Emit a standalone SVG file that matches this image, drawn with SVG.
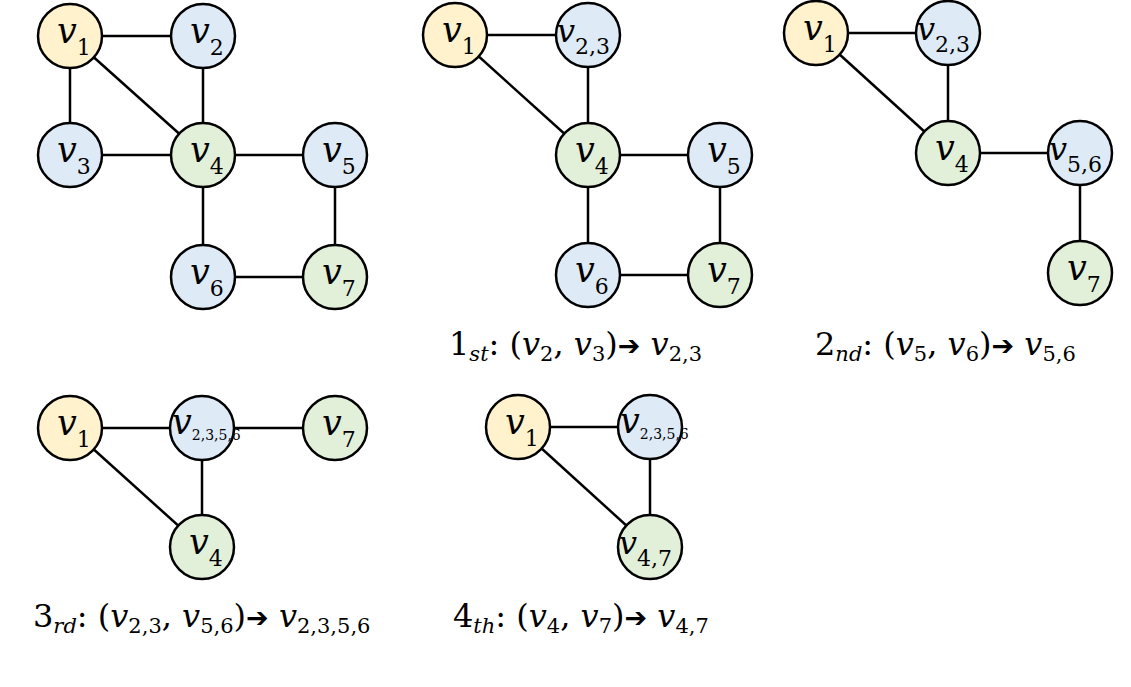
<svg xmlns="http://www.w3.org/2000/svg" width="1131" height="687" viewBox="0 0 1131 687">
<style>
.n{stroke:#000;stroke-width:2.5}
.y{fill:#FFF2CC}.b{fill:#DEEBF7}.g{fill:#E2F0D9}
.e{stroke:#000;stroke-width:2.5;fill:none}
.t{font-family:"DejaVu Serif","Liberation Serif",serif;font-size:35px;fill:#000}
.m{font-size:32px}
.v{font-style:italic}
.s{font-size:22px}
.s3{font-size:14px}
.c{font-family:"DejaVu Serif","Liberation Serif",serif;font-size:32px;fill:#000}
.cs{font-size:21px;font-style:italic}
.cn{font-size:21px}
.ar{font-family:"DejaVu Sans",sans-serif;font-size:27px;font-weight:bold}
</style>
<rect width="1131" height="687" fill="#fff"/>
<g id="connectors">
<line class="e" x1="70" y1="36" x2="203" y2="36"/>
<line class="e" x1="70" y1="36" x2="70" y2="155"/>
<line class="e" x1="70" y1="36" x2="203" y2="155"/>
<line class="e" x1="203" y1="36" x2="203" y2="155"/>
<line class="e" x1="70" y1="155" x2="203" y2="155"/>
<line class="e" x1="203" y1="155" x2="335" y2="155"/>
<line class="e" x1="203" y1="155" x2="203" y2="277"/>
<line class="e" x1="335" y1="155" x2="335" y2="277"/>
<line class="e" x1="203" y1="277" x2="335" y2="277"/>
<line class="e" x1="455" y1="35" x2="588" y2="35"/>
<line class="e" x1="455" y1="35" x2="588" y2="155"/>
<line class="e" x1="588" y1="35" x2="588" y2="155"/>
<line class="e" x1="588" y1="155" x2="720" y2="155"/>
<line class="e" x1="588" y1="155" x2="588" y2="275"/>
<line class="e" x1="720" y1="155" x2="720" y2="275"/>
<line class="e" x1="588" y1="275" x2="720" y2="275"/>
<line class="e" x1="816" y1="33" x2="948" y2="33"/>
<line class="e" x1="816" y1="33" x2="948" y2="153"/>
<line class="e" x1="948" y1="33" x2="948" y2="153"/>
<line class="e" x1="948" y1="153" x2="1080" y2="153"/>
<line class="e" x1="1080" y1="153" x2="1080" y2="273"/>
<line class="e" x1="70" y1="428" x2="202" y2="428"/>
<line class="e" x1="202" y1="428" x2="335" y2="428"/>
<line class="e" x1="70" y1="428" x2="202" y2="547"/>
<line class="e" x1="202" y1="428" x2="202" y2="547"/>
<line class="e" x1="518" y1="427" x2="650" y2="427"/>
<line class="e" x1="518" y1="427" x2="650" y2="547"/>
<line class="e" x1="650" y1="427" x2="650" y2="547"/>
</g>
<g id="g1v1"><circle class="n y" cx="70" cy="36" r="32"/><text class="t" x="57" y="43"><tspan class="v">v</tspan><tspan class="s" dy="12">1</tspan></text></g>
<g id="g1v2"><circle class="n b" cx="203" cy="36" r="32"/><text class="t" x="190" y="43"><tspan class="v">v</tspan><tspan class="s" dy="12">2</tspan></text></g>
<g id="g1v3"><circle class="n b" cx="70" cy="155" r="32"/><text class="t" x="57" y="162"><tspan class="v">v</tspan><tspan class="s" dy="12">3</tspan></text></g>
<g id="g1v4"><circle class="n g" cx="203" cy="155" r="32"/><text class="t" x="190" y="162"><tspan class="v">v</tspan><tspan class="s" dy="12">4</tspan></text></g>
<g id="g1v5"><circle class="n b" cx="335" cy="155" r="32"/><text class="t" x="322" y="162"><tspan class="v">v</tspan><tspan class="s" dy="12">5</tspan></text></g>
<g id="g1v6"><circle class="n b" cx="203" cy="277" r="32"/><text class="t" x="190" y="284"><tspan class="v">v</tspan><tspan class="s" dy="12">6</tspan></text></g>
<g id="g1v7"><circle class="n g" cx="335" cy="277" r="32"/><text class="t" x="322" y="284"><tspan class="v">v</tspan><tspan class="s" dy="12">7</tspan></text></g>
<g id="g2v1"><circle class="n y" cx="455" cy="35" r="32"/><text class="t" x="442" y="42"><tspan class="v">v</tspan><tspan class="s" dy="12">1</tspan></text></g>
<g id="g2v23"><circle class="n b" cx="588" cy="35" r="32"/><text class="t m" x="557" y="42"><tspan class="v">v</tspan><tspan class="s" dy="12">2,3</tspan></text></g>
<g id="g2v4"><circle class="n g" cx="588" cy="155" r="32"/><text class="t" x="575" y="162"><tspan class="v">v</tspan><tspan class="s" dy="12">4</tspan></text></g>
<g id="g2v5"><circle class="n b" cx="720" cy="155" r="32"/><text class="t" x="707" y="162"><tspan class="v">v</tspan><tspan class="s" dy="12">5</tspan></text></g>
<g id="g2v6"><circle class="n b" cx="588" cy="275" r="32"/><text class="t" x="575" y="282"><tspan class="v">v</tspan><tspan class="s" dy="12">6</tspan></text></g>
<g id="g2v7"><circle class="n g" cx="720" cy="275" r="32"/><text class="t" x="707" y="282"><tspan class="v">v</tspan><tspan class="s" dy="12">7</tspan></text></g>
<g id="g3v1"><circle class="n y" cx="816" cy="33" r="32"/><text class="t" x="803" y="40"><tspan class="v">v</tspan><tspan class="s" dy="12">1</tspan></text></g>
<g id="g3v23"><circle class="n b" cx="948" cy="33" r="32"/><text class="t m" x="917" y="40"><tspan class="v">v</tspan><tspan class="s" dy="12">2,3</tspan></text></g>
<g id="g3v4"><circle class="n g" cx="948" cy="153" r="32"/><text class="t" x="935" y="160"><tspan class="v">v</tspan><tspan class="s" dy="12">4</tspan></text></g>
<g id="g3v56"><circle class="n b" cx="1080" cy="153" r="32"/><text class="t m" x="1049" y="160"><tspan class="v">v</tspan><tspan class="s" dy="12">5,6</tspan></text></g>
<g id="g3v7"><circle class="n g" cx="1080" cy="273" r="32"/><text class="t" x="1067" y="280"><tspan class="v">v</tspan><tspan class="s" dy="12">7</tspan></text></g>
<g id="g4v1"><circle class="n y" cx="70" cy="428" r="32"/><text class="t" x="57" y="435"><tspan class="v">v</tspan><tspan class="s" dy="12">1</tspan></text></g>
<g id="g4v2356"><circle class="n b" cx="202" cy="428" r="32"/><text class="t" x="172" y="434" font-size="26"><tspan class="v">v</tspan><tspan class="s3" dy="6">2,3,5,6</tspan></text></g>
<g id="g4v7"><circle class="n g" cx="335" cy="428" r="32"/><text class="t" x="322" y="435"><tspan class="v">v</tspan><tspan class="s" dy="12">7</tspan></text></g>
<g id="g4v4"><circle class="n g" cx="202" cy="547" r="32"/><text class="t" x="189" y="554"><tspan class="v">v</tspan><tspan class="s" dy="12">4</tspan></text></g>
<g id="g5v1"><circle class="n y" cx="518" cy="427" r="32"/><text class="t" x="505" y="434"><tspan class="v">v</tspan><tspan class="s" dy="12">1</tspan></text></g>
<g id="g5v2356"><circle class="n b" cx="650" cy="427" r="32"/><text class="t" x="620" y="433" font-size="26"><tspan class="v">v</tspan><tspan class="s3" dy="6">2,3,5,6</tspan></text></g>
<g id="g5v47"><circle class="n g" cx="650" cy="547" r="32"/><text class="t m" x="619" y="554"><tspan class="v">v</tspan><tspan class="s" dy="12">4,7</tspan></text></g>
<g id="cap1"><text class="c" x="449" y="355">1<tspan class="cs" dy="6">st</tspan><tspan dy="-6">: (</tspan><tspan class="v">v</tspan><tspan class="cn" dy="6">2</tspan><tspan dy="-6">, </tspan><tspan class="v">v</tspan><tspan class="cn" dy="6">3</tspan><tspan dy="-6">)</tspan><tspan class="ar">➔</tspan><tspan> </tspan><tspan class="v">v</tspan><tspan class="cn" dy="6">2,3</tspan></text></g>
<g id="cap2"><text class="c" x="815" y="355">2<tspan class="cs" dy="6">nd</tspan><tspan dy="-6">: (</tspan><tspan class="v">v</tspan><tspan class="cn" dy="6">5</tspan><tspan dy="-6">, </tspan><tspan class="v">v</tspan><tspan class="cn" dy="6">6</tspan><tspan dy="-6">)</tspan><tspan class="ar">➔</tspan><tspan> </tspan><tspan class="v">v</tspan><tspan class="cn" dy="6">5,6</tspan></text></g>
<g id="cap3"><text class="c" x="33" y="627">3<tspan class="cs" dy="6">rd</tspan><tspan dy="-6">: (</tspan><tspan class="v">v</tspan><tspan class="cn" dy="6">2,3</tspan><tspan dy="-6">, </tspan><tspan class="v">v</tspan><tspan class="cn" dy="6">5,6</tspan><tspan dy="-6">)</tspan><tspan class="ar">➔</tspan><tspan> </tspan><tspan class="v">v</tspan><tspan class="cn" dy="6">2,3,5,6</tspan></text></g>
<g id="cap4"><text class="c" x="453" y="627">4<tspan class="cs" dy="6">th</tspan><tspan dy="-6">: (</tspan><tspan class="v">v</tspan><tspan class="cn" dy="6">4</tspan><tspan dy="-6">, </tspan><tspan class="v">v</tspan><tspan class="cn" dy="6">7</tspan><tspan dy="-6">)</tspan><tspan class="ar">➔</tspan><tspan> </tspan><tspan class="v">v</tspan><tspan class="cn" dy="6">4,7</tspan></text></g>
</svg>
